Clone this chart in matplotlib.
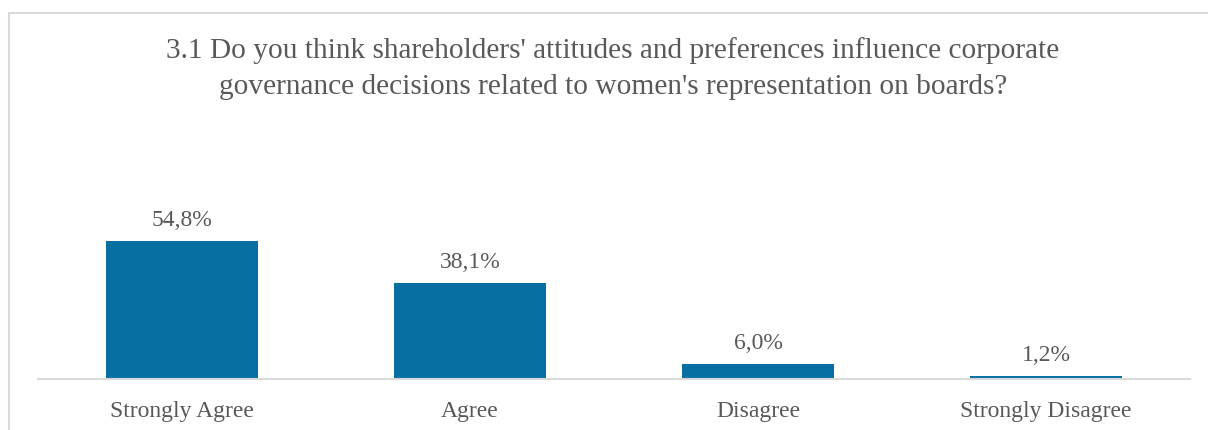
import matplotlib
matplotlib.use("Agg")
import matplotlib.pyplot as plt
from matplotlib.lines import Line2D

categories = ["Strongly Agree", "Agree", "Disagree", "Strongly Disagree"]
values = [54.8, 38.1, 6.0, 1.2]
labels = ["54,8%", "38,1%", "6,0%", "1,2%"]
title_lines = ["3.1 Do you think shareholders' attitudes and preferences influence corporate",
               "governance decisions related to women's representation on boards?"]

BAR_COLOR = "#076FA2"
TEXT_COLOR = "#595959"
GRID_COLOR = "#D9D9D9"

plt.rcParams["font.family"] = ["Liberation Serif", "DejaVu Serif"]

W, H = 1208, 430
fig = plt.figure(figsize=(W / 100, H / 100), dpi=100)

# outer chart frame (cropped on right and bottom)
fig.add_artist(Line2D([9 / W, 9 / W], [0, 1 - 13 / H], color=GRID_COLOR, lw=1.5, transform=fig.transFigure))
fig.add_artist(Line2D([9 / W, 1], [1 - 13 / H, 1 - 13 / H], color=GRID_COLOR, lw=1.5, transform=fig.transFigure))

ax = fig.add_axes([38 / W, (H - 379) / H, (1190 - 38) / W, 151.2 / H])
x = range(len(categories))
ax.bar(x, values, width=0.53, color=BAR_COLOR)
ax.set_xlim(-0.5, len(categories) - 0.5)
ax.set_ylim(0, 60)

for xi, v, lab in zip(x, values, labels):
    ax.annotate(lab, (xi, v), xytext=(0, 10), textcoords="offset pixels",
                ha="center", va="bottom", fontsize=17, color=TEXT_COLOR)

ax.set_xticks(list(x))
ax.set_xticklabels(categories, fontsize=17, color=TEXT_COLOR)
ax.tick_params(axis="x", length=0, pad=16)
ax.set_yticks([])
for side in ["left", "right", "top"]:
    ax.spines[side].set_visible(False)
ax.spines["bottom"].set_color(GRID_COLOR)
ax.spines["bottom"].set_linewidth(1.5)

# title: two centred lines, baselines at 58 px and 94 px from the top
for line, base in zip(title_lines, [58, 94]):
    fig.text(613 / W, 1 - base / H, line, ha="center", va="baseline",
             fontsize=21.2, color=TEXT_COLOR)

fig.savefig("out.png", dpi=100)
